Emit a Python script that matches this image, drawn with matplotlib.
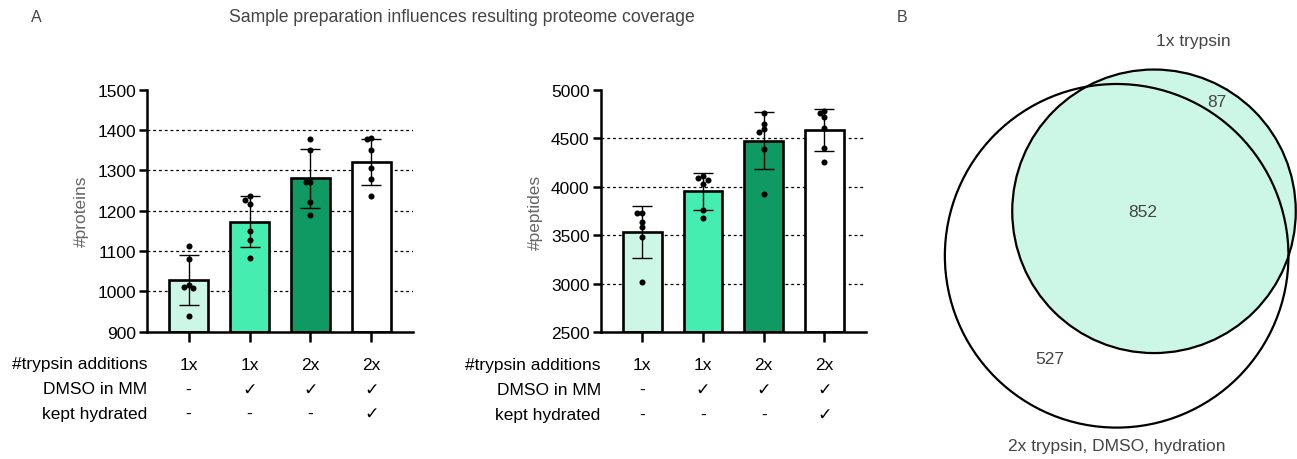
import numpy as np
import matplotlib
matplotlib.use('Agg')
import matplotlib.pyplot as plt
from matplotlib.patches import Circle

plt.rcParams['font.family'] = ['Liberation Sans', 'DejaVu Sans']

# ---------------- data ----------------
trypsin_additions = ['1x', '1x', '2x', '2x']
dmso_in_mm = ['-', '\u2713', '\u2713', '\u2713']
kept_hydrated = ['-', '-', '-', '\u2713']
row_labels = ['#trypsin additions', 'DMSO in MM', 'kept hydrated']

protein_mean = [1028, 1173, 1280, 1321]
protein_sd = [62, 63, 73, 58]
protein_points = [
    [1112, 1081, 1016, 1010, 1008, 938],
    [1237, 1227, 1217, 1150, 1127, 1083],
    [1377, 1351, 1270, 1270, 1222, 1189],
    [1381, 1377, 1350, 1305, 1279, 1236],
]

peptide_mean = [3532, 3955, 4478, 4585]
peptide_sd = [268, 188, 295, 215]
peptide_points = [
    [3735, 3735, 3638, 3590, 3483, 3023],
    [4113, 4092, 4071, 4030, 3765, 3679],
    [4759, 4646, 4598, 4563, 4391, 3924],
    [4787, 4759, 4718, 4605, 4398, 4254],
]

venn_only_1x = 87
venn_both = 852
venn_only_2x = 527
venn_label_1x = '1x trypsin'
venn_label_2x = '2x trypsin, DMSO, hydration'

bar_colors = ['#ccf7e6', '#45edb0', '#0e9a62', '#ffffff']

W, H = 1297, 460
fig = plt.figure(figsize=(W / 100, H / 100), dpi=100)


def px_axes(x0, y0, x1, y1):
    return fig.add_axes([x0 / W, 1 - y1 / H, (x1 - x0) / W, (y1 - y0) / H])


def bar_panel(ax, means, sds, points, ylim, yticks, grid_vals, ylabel):
    x = np.arange(len(means))
    ax.set_xlim(-0.683, len(means) - 1 + 0.683)
    ax.set_ylim(*ylim)
    for g in grid_vals:
        ax.axhline(g, color='black', lw=0.9, ls=(0, (2.3, 2.3)), zorder=0.5)
    ax.bar(x, [m - ylim[0] for m in means], bottom=ylim[0], width=0.64,
           color=bar_colors, edgecolor='black', linewidth=1.9, zorder=2)
    ax.errorbar(x, means, yerr=sds, fmt='none', ecolor='black',
                elinewidth=1.0, capsize=7.4, capthick=1.0, zorder=3)
    # simple beeswarm spreading of the replicate points
    fig.canvas.draw()
    ypx = ax.transData.transform([(0, ylim[0]), (0, ylim[0] + 1)])
    px_per_unit = ypx[1, 1] - ypx[0, 1]
    xpx = ax.transData.transform([(0, 0), (1, 0)])
    px_per_x = xpx[1, 0] - xpx[0, 0]
    diam = 6.0
    step = (diam * 0.8) / px_per_x
    for i, pts in enumerate(points):
        placed = []
        for v in pts:
            for off in [0, -step, step, -2 * step, 2 * step]:
                ok = True
                for (po, pv) in placed:
                    dx = (off - po) * px_per_x
                    dy = (v - pv) * px_per_unit
                    if dx * dx + dy * dy < diam * diam * 0.6:
                        ok = False
                        break
                if ok:
                    placed.append((off, v))
                    break
        ax.scatter([i + p[0] for p in placed], [p[1] for p in placed],
                   s=19, color='black', zorder=4, linewidths=0)
    for s in ['top', 'right']:
        ax.spines[s].set_visible(False)
    for s in ['left', 'bottom']:
        ax.spines[s].set_linewidth(1.8)
    ax.set_yticks(yticks)
    ax.set_yticklabels([str(t) for t in yticks], fontsize=12.5)
    ax.set_xticks(x)
    ax.set_xticklabels([])
    ax.tick_params(axis='y', length=6, width=1.8, pad=2)
    ax.tick_params(axis='x', length=7, width=1.8)
    ax.set_ylabel(ylabel, fontsize=12.5, color='#666666', labelpad=6)
    # condition table below the axis
    trans = ax.get_xaxis_transform()
    rows = [trypsin_additions, dmso_in_mm, kept_hydrated]
    bpx = 332.7
    h = 242.0
    for r, (lab, vals) in enumerate(zip(row_labels, rows)):
        ybase = [369.5, 394.5, 419.0][r]
        yf = -(ybase - bpx) / h
        ax.text(0.0, yf, lab, transform=ax.transAxes, ha='right', va='baseline',
                fontsize=12.5, color='black')
        for i, v in enumerate(vals):
            ax.text(i, yf, v, transform=trans, ha='center', va='baseline',
                    fontsize=12.5, color='black',
                    family=['Liberation Sans', 'DejaVu Sans'])


ax1 = px_axes(147, 90.7, 413, 332.7)
bar_panel(ax1, protein_mean, protein_sd, protein_points, (900, 1500),
          [900, 1000, 1100, 1200, 1300, 1400, 1500],
          [1000, 1100, 1200, 1300, 1400], '#proteins')

ax2 = px_axes(600.7, 91, 866, 333.3)
bar_panel(ax2, peptide_mean, peptide_sd, peptide_points, (2500, 5000),
          [2500, 3000, 3500, 4000, 4500, 5000],
          [3000, 3500, 4000, 4500], '#peptides')

fig.text(36 / W, 1 - 18 / H, 'A', fontsize=11.5, color='#444444', ha='center', va='center')
fig.text(462 / W, 1 - 17 / H, 'Sample preparation influences resulting proteome coverage',
         fontsize=12.7, color='#444444', ha='center', va='center')
fig.text(902 / W, 1 - 18 / H, 'B', fontsize=11.5, color='#444444', ha='center', va='center')

# ---------------- Venn ----------------
area1 = venn_only_1x + venn_both
area2 = venn_only_2x + venn_both
r1 = np.sqrt(area1 / np.pi)
r2 = np.sqrt(area2 / np.pi)


def lens_area(a, b, d):
    if d >= a + b:
        return 0.0
    if d <= abs(a - b):
        return np.pi * min(a, b) ** 2
    t1 = a * a * np.arccos((d * d + a * a - b * b) / (2 * d * a))
    t2 = b * b * np.arccos((d * d + b * b - a * a) / (2 * d * b))
    t3 = 0.5 * np.sqrt((-d + a + b) * (d + a - b) * (d - a + b) * (d + a + b))
    return t1 + t2 - t3


lo, hi = abs(r1 - r2) + 1e-9, r1 + r2
for _ in range(100):
    mid = 0.5 * (lo + hi)
    if lens_area(r1, r2, mid) > venn_both:
        lo = mid
    else:
        hi = mid
dist = 0.5 * (lo + hi)
ang = np.deg2rad(-130)
c2 = (dist * np.cos(ang), dist * np.sin(ang))

s = 8.2  # px per unit
cx, cy = 1154, 212.3
axv = px_axes(880, 0, 1297, 460)
axv.set_xlim((880 - cx) / s, (1297 - cx) / s)
axv.set_ylim((cy - 460) / s, cy / s)
axv.axis('off')
axv.add_patch(Circle((0, 0), r1, facecolor='#ccf7e6', edgecolor='none', zorder=1))
axv.add_patch(Circle((0, 0), r1, facecolor='none', edgecolor='black', lw=1.6, zorder=3))
axv.add_patch(Circle(c2, r2, facecolor='none', edgecolor='black', lw=1.6, zorder=3))


def vpos(px, py):
    return ((px - cx) / s, (cy - py) / s)


axv.text(*vpos(1217, 103), str(venn_only_1x), fontsize=12.5, color='#444444', ha='center', va='center')
axv.text(*vpos(1143, 213), str(venn_both), fontsize=12.5, color='#444444', ha='center', va='center')
axv.text(*vpos(1050, 360), str(venn_only_2x), fontsize=12.5, color='#444444', ha='center', va='center')
axv.text(*vpos(1193, 42), venn_label_1x, fontsize=12.5, color='#444444', ha='center', va='center')
axv.text(*vpos(1117, 447), venn_label_2x, fontsize=12.5, color='#444444', ha='center', va='center')

fig.savefig('out.png', dpi=100)
